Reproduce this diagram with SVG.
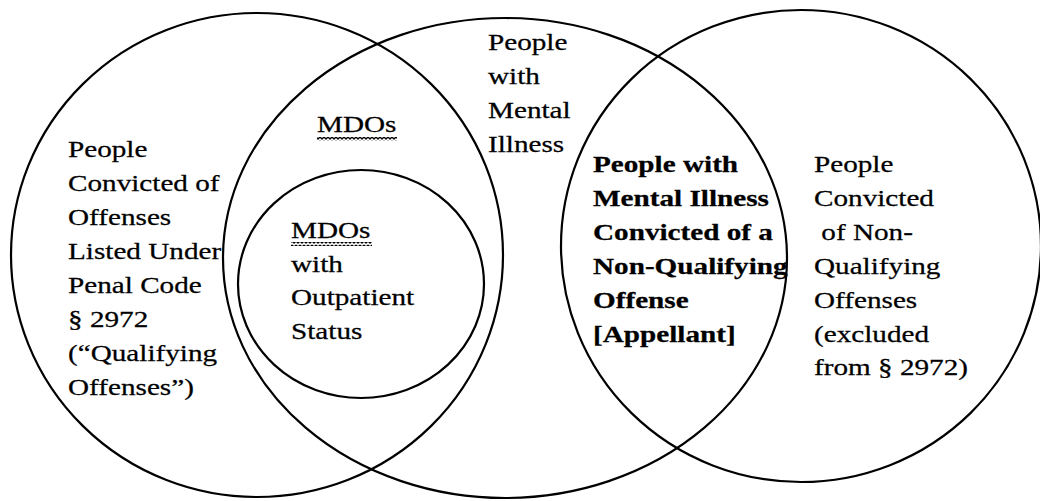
<svg xmlns="http://www.w3.org/2000/svg" width="1040" height="501" viewBox="0 0 1040 501">
<style>
.c{fill:none;stroke:#000;stroke-width:2.2}
.t{font-family:'Liberation Serif','Times New Roman',serif;font-size:23px;fill:#000;stroke:#000;stroke-width:0.25}
.b{font-weight:bold}
</style>
<defs>
<pattern id="wave" x="0" y="0" width="4" height="4" patternUnits="userSpaceOnUse">
<path d="M0,1 L2,3 L4,1" fill="none" stroke="#000" stroke-width="1.3"/>
</pattern>
</defs>
<rect width="1040" height="501" fill="#fff"/>
<g id="qualifying">
<ellipse class="c" cx="257" cy="255" rx="246" ry="242"/>
<g transform="translate(68,0) scale(1.27,1)">
<text class="t"><tspan x="0" y="157">People</tspan><tspan x="0" y="191">Convicted of</tspan><tspan x="0" y="225">Offenses</tspan><tspan x="0" y="259">Listed Under</tspan><tspan x="0" y="293">Penal Code</tspan><tspan x="0" y="327">§ 2972</tspan><tspan x="0" y="361">(“Qualifying</tspan><tspan x="0" y="395">Offenses”)</tspan></text>
</g>
</g>
<g id="mental-illness">
<ellipse class="c" cx="505" cy="258" rx="282" ry="240"/>
<g transform="translate(488,0) scale(1.27,1)">
<text class="t"><tspan x="0" y="50">People</tspan><tspan x="0" y="84">with</tspan><tspan x="0" y="118">Mental</tspan><tspan x="0" y="152">Illness</tspan></text>
</g>
</g>
<g id="non-qualifying">
<ellipse class="c" cx="801" cy="246" rx="240" ry="236"/>
<g transform="translate(814,0) scale(1.27,1)">
<text class="t" xml:space="preserve"><tspan x="0" y="172">People</tspan><tspan x="0" y="206">Convicted</tspan><tspan x="0" y="240"> of Non-</tspan><tspan x="0" y="274">Qualifying</tspan><tspan x="0" y="308">Offenses</tspan><tspan x="0" y="342">(excluded</tspan><tspan x="0" y="375">from § 2972)</tspan></text>
</g>
</g>
<g id="mdos">
<g transform="translate(317,0) scale(1.27,1)">
<text class="t"><tspan x="0" y="132">MDOs</tspan></text>
</g>
<rect x="317" y="137" width="80" height="4" fill="url(#wave)"/>
</g>
<g id="mdos-outpatient">
<ellipse class="c" cx="361" cy="284" rx="123" ry="114"/>
<g transform="translate(291,0) scale(1.27,1)">
<text class="t"><tspan x="0" y="238">MDOs</tspan><tspan x="0" y="272">with</tspan><tspan x="0" y="305">Outpatient</tspan><tspan x="0" y="339">Status</tspan></text>
</g>
<rect x="291" y="242" width="81" height="4" fill="url(#wave)"/>
</g>
<g id="appellant">
<g transform="translate(593,0) scale(1.27,1)">
<text class="t b"><tspan x="0" y="172">People with</tspan><tspan x="0" y="206">Mental Illness</tspan><tspan x="0" y="240">Convicted of a</tspan><tspan x="0" y="274">Non-Qualifying</tspan><tspan x="0" y="308">Offense</tspan><tspan x="0" y="342">[Appellant]</tspan></text>
</g>
</g>
<g id="connectors"></g>
</svg>
